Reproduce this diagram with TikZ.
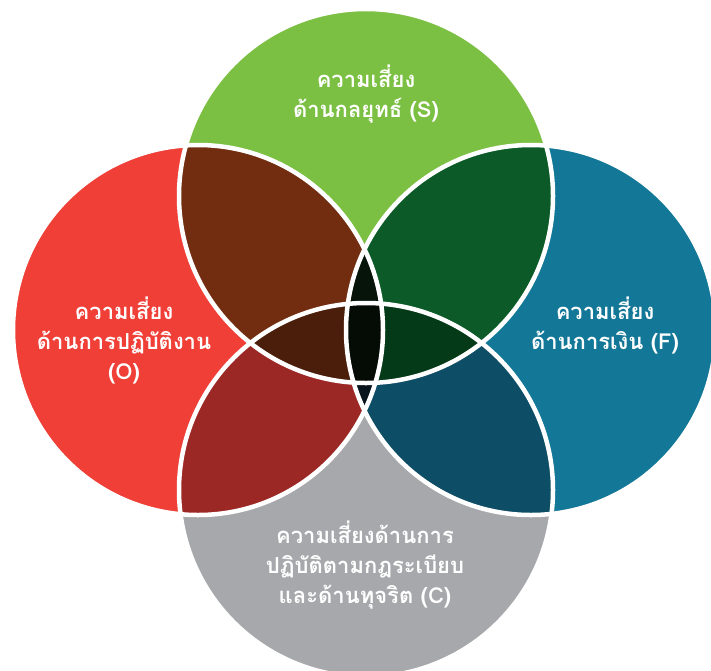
\documentclass[tikz,border=0pt]{standalone}
\usepackage{fontspec}
\newfontfamily\thaifont[Script=Thai]{Loma}
\definecolor{cT}{HTML}{7BC043}
\definecolor{cL}{HTML}{EF3F37}
\definecolor{cR}{HTML}{137797}
\definecolor{cB}{HTML}{A7A8AB}
\definecolor{cTL}{HTML}{722D10}
\definecolor{cTR}{HTML}{0B5A27}
\definecolor{cLB}{HTML}{9C2826}
\definecolor{cRB}{HTML}{0D4D66}
\definecolor{cTLB}{HTML}{4B1E0B}
\definecolor{cTRB}{HTML}{053A18}
\definecolor{cTLR}{HTML}{06140A}
\definecolor{cLRB}{HTML}{0A141C}
\definecolor{cAll}{HTML}{040C05}
\tikzset{
  lbl/.style={text=white, align=center, font=\thaifont\bfseries\fontsize{22}{30}\selectfont, inner sep=0pt},
  ring/.style={draw=white, line width=4.5pt}
}
\begin{document}
\begin{tikzpicture}[x=1pt,y=-1pt]
\clip (0,0) rectangle (711,670);
\useasboundingbox (0,0) rectangle (711,670);
\coordinate (T) at (366,196);
\coordinate (B) at (366,490);
\coordinate (L) at (198,330);
\coordinate (R) at (531,330);
\def\rT{(T) circle (187)}
\def\rB{(B) circle (187)}
\def\rL{(L) circle (185)}
\def\rR{(R) circle (185)}
% single circles
\fill[cT] \rT;
\fill[cL] \rL;
\fill[cR] \rR;
\fill[cB] \rB;
% pairs
\begin{scope}\clip \rT; \fill[cTL] \rL; \fill[cTR] \rR; \end{scope}
\begin{scope}\clip \rB; \fill[cLB] \rL; \fill[cRB] \rR; \end{scope}
% triples
\begin{scope}\clip \rT; \clip \rB; \fill[cTLB] \rL; \fill[cTRB] \rR; \end{scope}
\begin{scope}\clip \rL; \clip \rR; \fill[cTLR] \rT; \fill[cLRB] \rB; \end{scope}
% all four
\begin{scope}\clip \rL; \clip \rR; \clip \rT; \fill[cAll] \rB; \end{scope}
% white outlines
\draw[ring] \rT;
\draw[ring] \rL;
\draw[ring] \rR;
\draw[ring] \rB;
% labels
\node[lbl] (s) at (366,94) {ความเสี่ยง\\ด้านกลยุทธ์ (S)};
\node[lbl] (o) at (124,340) {ความเสี่ยง\\ด้านการปฏิบัติงาน\\(O)};
\node[lbl] (f) at (605,325) {ความเสี่ยง\\ด้านการเงิน (F)};
\node[lbl] (c) at (365,565) {ความเสี่ยงด้านการ\\ปฏิบัติตามกฎระเบียบ\\และด้านทุจริต (C)};
\end{tikzpicture}
\end{document}
